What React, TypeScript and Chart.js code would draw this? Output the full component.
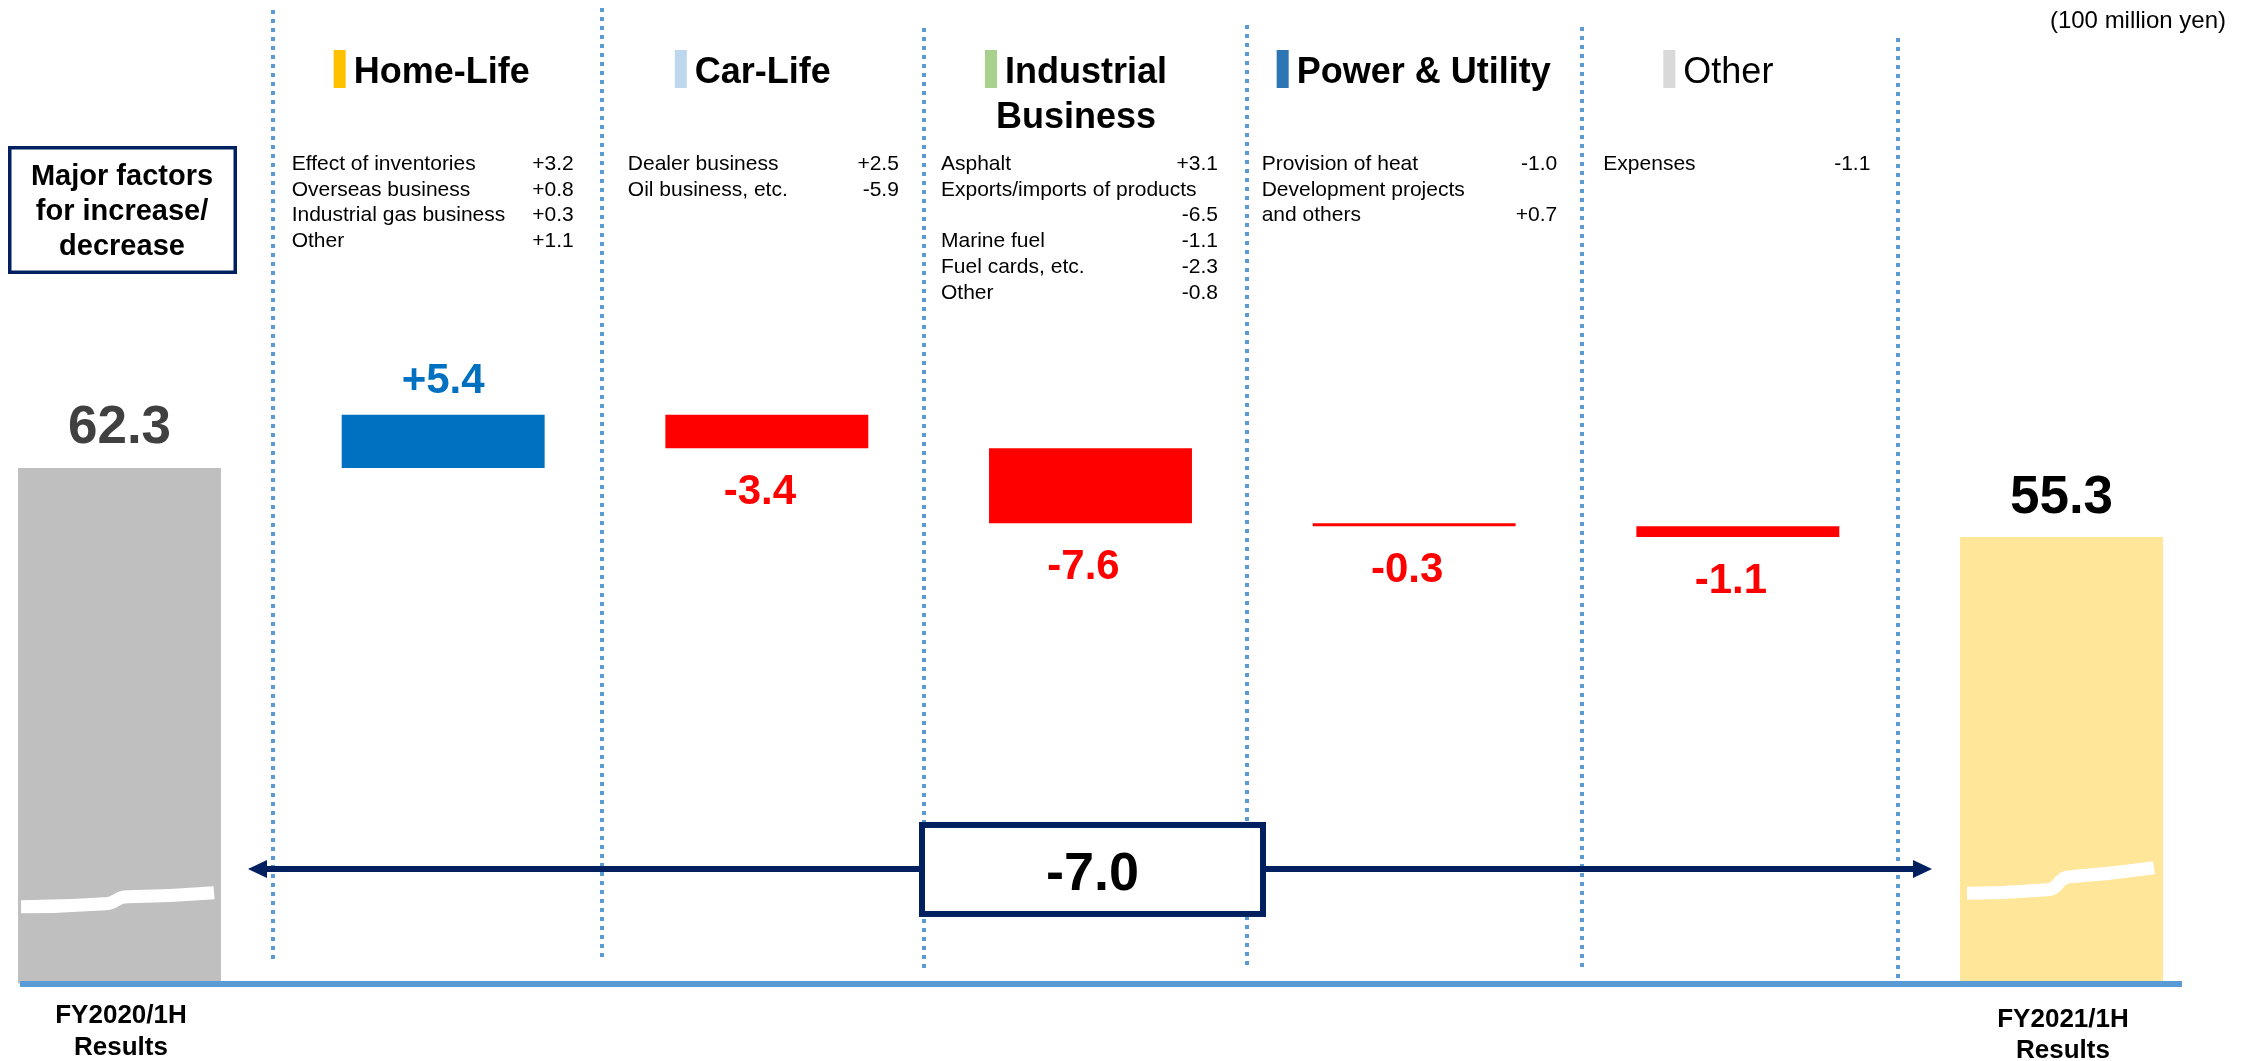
import React, { useEffect, useRef } from "react";
import { Chart, registerables } from "chart.js";

Chart.register(...registerables);

// ---------------- data ----------------
const categories = [
  "FY2020/1H Results",
  "Home-Life",
  "Car-Life",
  "Industrial Business",
  "Power & Utility",
  "Other",
  "FY2021/1H Results",
];
const startValue = 62.3;
const endValue = 55.3;
const segmentDeltas = [5.4, -3.4, -7.6, -0.3, -1.1];
const headerTitles = [["Home-Life"], ["Car-Life"], ["Industrial", "Business"], ["Power & Utility"], ["Other"]];
const homeLifeFactors = [
  ["Effect of inventories", "+3.2"],
  ["Overseas business", "+0.8"],
  ["Industrial gas business", "+0.3"],
  ["Other", "+1.1"],
];
const carLifeFactors = [
  ["Dealer business", "+2.5"],
  ["Oil business, etc.", "-5.9"],
];
const industrialFactors = [
  ["Asphalt", "+3.1"],
  ["Exports/imports of products", ""],
  ["", "-6.5"],
  ["Marine fuel", "-1.1"],
  ["Fuel cards, etc.", "-2.3"],
  ["Other", "-0.8"],
];
const powerFactors = [
  ["Provision of heat", "-1.0"],
  ["Development projects", ""],
  ["and others", "+0.7"],
];
const otherFactors = [["Expenses", "-1.1"]];
const startLabelLines = ["FY2020/1H", "Results"];
const endLabelLines = ["FY2021/1H", "Results"];
const factorsBoxLines = ["Major factors", "for increase/", "decrease"];
const unitText = "(100 million yen)";
const axisMin = 10;
const axisMax = 100;

// ---------------- styles / layout ----------------
const FONT = '"Liberation Sans", Arial, Helvetica, sans-serif';
const C = {
  start: "#BFBFBF",
  end: "#FFE699",
  up: "#0070C0",
  down: "#FF0000",
  startText: "#404040",
  endText: "#000000",
  navy: "#002060",
  dotted: "#5B9BD5",
};
const headerMarkerColors = ["#FFC000", "#BDD7EE", "#A9D18E", "#2E75B6", "#D9D9D9"];
const headerBold = [true, true, true, true, false];
const headerLeftOffsets = [-109.5, -92, -105.5, -137.5, -74.5];
const factorLists = [homeLifeFactors, carLifeFactors, industrialFactors, powerFactors, otherFactors];
const factorColumnOffsets = [
  [-151.5, 130.5],
  [-139, 132],
  [-149.5, 127.5],
  [-152.5, 143],
  [-134.5, 132.5],
];
const separators = [
  { pos: 0.474, top: 10, bottom: 961 },
  { pos: 1.491, top: 8, bottom: 958 },
  { pos: 2.485, top: 28, bottom: 973 },
  { pos: 3.484, top: 25, bottom: 970 },
  { pos: 4.519, top: 27, bottom: 972 },
  { pos: 5.495, top: 38, bottom: 981 },
];
const breakMarks = [
  { index: 0, level: 18.5, pts: [[3, 7], [87, 4], [109, -3], [196, -7]] },
  { index: 6, level: 20.45, pts: [[7, 12.8], [87, 9.2], [110, -3.8], [194, -12.8]] },
];
const arrowLevel = 21.62;

// ---------------- derived bar table ----------------
const floatingBars: [number, number][] = [];
const barColors: string[] = [];
floatingBars.push([axisMin, startValue]);
barColors.push(C.start);
let running = startValue;
for (const d of segmentDeltas) {
  floatingBars.push([running, running + d]);
  barColors.push(d >= 0 ? C.up : C.down);
  running += d;
}
floatingBars.push([axisMin, endValue]);
barColors.push(C.end);

const fmtDelta = (d: number) => (d > 0 ? "+" : "") + d.toFixed(1);

function text(ctx: CanvasRenderingContext2D, s: string, x: number, y: number, font: string, color: string, align: CanvasTextAlign) {
  ctx.font = font;
  ctx.fillStyle = color;
  ctx.textAlign = align;
  ctx.textBaseline = "alphabetic";
  ctx.fillText(s, x, y);
}

const decorPlugin = {
  id: "waterfallDecor",
  beforeDatasetsDraw(chart: any) {
    const { ctx } = chart;
    const x = chart.scales.x;
    ctx.save();
    ctx.strokeStyle = C.dotted;
    ctx.lineWidth = 4;
    ctx.setLineDash([4, 5]);
    for (const s of separators) {
      const px = Math.round(x.getPixelForValue(s.pos));
      ctx.beginPath();
      ctx.moveTo(px, s.top);
      ctx.lineTo(px, s.bottom);
      ctx.stroke();
    }
    ctx.restore();
  },
  afterDatasetsDraw(chart: any) {
    const { ctx, chartArea } = chart;
    const y = chart.scales.y;
    const els = chart.getDatasetMeta(0).data;
    const last = els.length - 1;

    ctx.save();
    // axis line
    ctx.strokeStyle = C.dotted;
    ctx.lineWidth = 6;
    ctx.beginPath();
    ctx.moveTo(els[0].x - els[0].width / 2 + 2, chartArea.bottom + 0.5);
    ctx.lineTo(els[last].x + els[last].width / 2 + 19, chartArea.bottom + 0.5);
    ctx.stroke();

    // break marks
    ctx.strokeStyle = "#FFFFFF";
    ctx.lineWidth = 13;
    ctx.lineCap = "butt";
    for (const b of breakMarks) {
      const el = els[b.index];
      const left = el.x - el.width / 2;
      const cy = y.getPixelForValue(b.level);
      const p = b.pts.map(([dx, dy]) => [left + dx, cy + dy]);
      ctx.beginPath();
      ctx.moveTo(p[0][0], p[0][1]);
      ctx.quadraticCurveTo((p[0][0] + p[1][0]) / 2, (p[0][1] + p[1][1]) / 2 + 1.5, p[1][0], p[1][1]);
      ctx.bezierCurveTo(p[1][0] + 12, p[1][1], p[2][0] - 12, p[2][1], p[2][0], p[2][1]);
      ctx.quadraticCurveTo((p[2][0] + p[3][0]) / 2, (p[2][1] + p[3][1]) / 2 + 1.5, p[3][0], p[3][1]);
      ctx.stroke();
    }

    // arrows + total box
    const ay = y.getPixelForValue(arrowLevel);
    const boxW = 347;
    const boxH = 95;
    const bcx = (els[0].x + els[last].x) / 2 + 2;
    const bcy = ay + 0.5;
    const tipL = els[0].x + els[0].width / 2 + 27;
    const tipR = els[last].x - els[last].width / 2 - 28;
    ctx.strokeStyle = C.navy;
    ctx.fillStyle = C.navy;
    ctx.lineWidth = 6;
    ctx.beginPath();
    ctx.moveTo(tipL + 15, ay);
    ctx.lineTo(bcx, ay);
    ctx.moveTo(bcx, ay);
    ctx.lineTo(tipR - 15, ay);
    ctx.stroke();
    ctx.beginPath();
    ctx.moveTo(tipL, ay);
    ctx.lineTo(tipL + 19, ay - 9);
    ctx.lineTo(tipL + 19, ay + 9);
    ctx.closePath();
    ctx.fill();
    ctx.beginPath();
    ctx.moveTo(tipR, ay);
    ctx.lineTo(tipR - 19, ay - 9);
    ctx.lineTo(tipR - 19, ay + 9);
    ctx.closePath();
    ctx.fill();
    ctx.fillStyle = "#FFFFFF";
    ctx.fillRect(bcx - boxW / 2, bcy - boxH / 2, boxW, boxH);
    ctx.strokeRect(bcx - boxW / 2 + 3, bcy - boxH / 2 + 3, boxW - 6, boxH - 6);
    text(ctx, (endValue - startValue).toFixed(1), bcx, bcy + 20.5, `bold 54px ${FONT}`, "#000000", "center");

    // value labels
    els.forEach((el: any, i: number) => {
      const top = Math.min(el.y, el.base);
      const bottom = Math.max(el.y, el.base);
      if (i === 0) {
        text(ctx, startValue.toFixed(1), el.x, top - 25, `bold 53px ${FONT}`, C.startText, "center");
      } else if (i === last) {
        text(ctx, endValue.toFixed(1), el.x, top - 24, `bold 53px ${FONT}`, C.endText, "center");
      } else {
        const d = segmentDeltas[i - 1];
        if (d >= 0) {
          text(ctx, fmtDelta(d), el.x, top - 22, `bold 42px ${FONT}`, C.up, "center");
        } else {
          text(ctx, fmtDelta(d), el.x - 7, bottom + 56, `bold 42px ${FONT}`, C.down, "center");
        }
      }
    });
    ctx.restore();
  },
  afterDraw(chart: any) {
    const { ctx } = chart;
    const els = chart.getDatasetMeta(0).data;
    const last = els.length - 1;
    ctx.save();

    // unit
    text(ctx, unitText, 2226, 28, `24px ${FONT}`, "#000000", "right");

    // factor box
    ctx.strokeStyle = C.navy;
    ctx.lineWidth = 3.5;
    ctx.strokeRect(9.75, 147.75, 225.5, 124.5);
    factorsBoxLines.forEach((s, k) => text(ctx, s, 122, 185 + k * 35, `bold 29px ${FONT}`, "#000000", "center"));

    // headers + factors
    headerTitles.forEach((lines, i) => {
      const bx = els[i + 1].x;
      const left = bx + headerLeftOffsets[i];
      ctx.fillStyle = headerMarkerColors[i];
      ctx.fillRect(left, 50, 12, 38);
      const font = `${headerBold[i] ? "bold " : ""}36px ${FONT}`;
      text(ctx, lines[0], left + 20, 83, font, "#000000", "left");
      if (lines.length > 1) {
        ctx.font = font;
        const w = 20 + ctx.measureText(lines[0]).width;
        const cx = left + w / 2;
        for (let k = 1; k < lines.length; k++) text(ctx, lines[k], cx, 83 + k * 45, font, "#000000", "center");
      }
      const [lo, ro] = factorColumnOffsets[i];
      factorLists[i].forEach(([label, val], r) => {
        const by = 170 + r * 25.7;
        if (label) text(ctx, label, bx + lo, by, `21px ${FONT}`, "#000000", "left");
        if (val) text(ctx, val, bx + ro, by, `21px ${FONT}`, "#000000", "right");
      });
    });

    // footer labels
    startLabelLines.forEach((s, k) => text(ctx, s, els[0].x + 1.5, 1023 + k * 32, `bold 26px ${FONT}`, "#000000", "center"));
    endLabelLines.forEach((s, k) => text(ctx, s, els[last].x + 1.5, 1027 + k * 31, `bold 26px ${FONT}`, "#000000", "center"));
    ctx.restore();
  },
};

export default function App() {
  const ref = useRef<HTMLCanvasElement>(null);
  useEffect(() => {
    if (!ref.current) return;
    const chart = new Chart(ref.current, {
      type: "bar",
      data: {
        labels: categories,
        datasets: [
          {
            data: floatingBars as any,
            backgroundColor: barColors,
            borderWidth: 0,
            barPercentage: 0.627,
            categoryPercentage: 1,
            clip: false as any,
          },
        ],
      },
      options: {
        animation: false,
        responsive: false,
        maintainAspectRatio: false,
        layout: { padding: { left: 119.5, right: 199.5, top: 96.4, bottom: 77.5 } },
        plugins: { legend: { display: false }, tooltip: { enabled: false } },
        scales: {
          x: { type: "category", display: false, offset: false, grid: { display: false } },
          y: { display: false, min: axisMin, max: axisMax },
        },
      },
      plugins: [decorPlugin],
    });
    return () => chart.destroy();
  }, []);
  return (
    <div style={{ position: "fixed", left: 0, top: 0, width: 2261, height: 1061, background: "#FFFFFF" }}>
      <canvas ref={ref} width={2261} height={1061} style={{ display: "block", width: 2261, height: 1061 }} />
    </div>
  );
}
